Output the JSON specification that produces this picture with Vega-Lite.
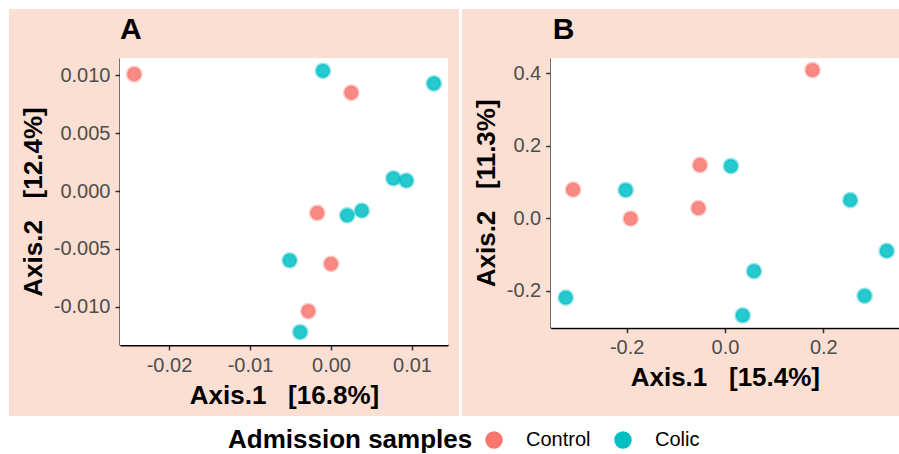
{
  "$schema": "https://vega.github.io/schema/vega-lite/v6.json",
  "background": "white",
  "padding": {"left": 9, "top": 9, "right": 0, "bottom": 0},
  "config": {
    "font": "Liberation Sans",
    "locale": {"number": {"decimal": ".", "thousands": ",", "grouping": [3], "currency": ["$", ""], "minus": "-"}},
    "view": {"stroke": null, "fill": "#FCDFD3"},
    "axis": {
      "domainColor": "black", "domainWidth": 2, "tickColor": "#333333", "tickWidth": 1.5, "tickSize": 5,
      "labelColor": "#4D4D4D", "labelFontSize": 20, "labelPadding": 5,
      "titleFontSize": 26, "titleFontWeight": "bold", "titleColor": "black", "titlePadding": 7,
      "grid": false, "zindex": 1
    },
    "title": {"fontSize": 30, "fontWeight": "bold", "anchor": "start", "frame": "group", "color": "black"},
    "legend": {
      "orient": "none", "legendX": 219, "legendY": 421, "direction": "horizontal",
      "titleOrient": "left", "titleFontSize": 26, "titleFontWeight": "bold", "titleColor": "black", "titleLimit": 600,
      "labelFontSize": 20, "labelColor": "black", "symbolSize": 254, "symbolType": "circle",
      "labelOffset": 22, "columnPadding": 21, "titlePadding": 11, "padding": 0
    }
  },
  "datasets": {
    "A": [
      {"Axis1": -0.0243, "Axis2": 0.0101, "Group": "Control"},
      {"Axis1": 0.0025, "Axis2": 0.0085, "Group": "Control"},
      {"Axis1": -0.0017, "Axis2": -0.0019, "Group": "Control"},
      {"Axis1": 0.0000, "Axis2": -0.0063, "Group": "Control"},
      {"Axis1": -0.0028, "Axis2": -0.0104, "Group": "Control"},
      {"Axis1": -0.0010, "Axis2": 0.0104, "Group": "Colic"},
      {"Axis1": 0.0127, "Axis2": 0.0093, "Group": "Colic"},
      {"Axis1": 0.0077, "Axis2": 0.0011, "Group": "Colic"},
      {"Axis1": 0.0093, "Axis2": 0.0009, "Group": "Colic"},
      {"Axis1": 0.0020, "Axis2": -0.0021, "Group": "Colic"},
      {"Axis1": 0.0038, "Axis2": -0.0017, "Group": "Colic"},
      {"Axis1": -0.0051, "Axis2": -0.0060, "Group": "Colic"},
      {"Axis1": -0.0038, "Axis2": -0.0122, "Group": "Colic"}
    ],
    "B": [
      {"Axis1": -0.309, "Axis2": 0.079, "Group": "Control"},
      {"Axis1": -0.192, "Axis2": -0.001, "Group": "Control"},
      {"Axis1": -0.051, "Axis2": 0.147, "Group": "Control"},
      {"Axis1": -0.054, "Axis2": 0.028, "Group": "Control"},
      {"Axis1": 0.178, "Axis2": 0.409, "Group": "Control"},
      {"Axis1": -0.324, "Axis2": -0.219, "Group": "Colic"},
      {"Axis1": -0.202, "Axis2": 0.078, "Group": "Colic"},
      {"Axis1": 0.012, "Axis2": 0.144, "Group": "Colic"},
      {"Axis1": 0.255, "Axis2": 0.050, "Group": "Colic"},
      {"Axis1": 0.329, "Axis2": -0.090, "Group": "Colic"},
      {"Axis1": 0.284, "Axis2": -0.214, "Group": "Colic"},
      {"Axis1": 0.059, "Axis2": -0.146, "Group": "Colic"},
      {"Axis1": 0.036, "Axis2": -0.268, "Group": "Colic"}
    ]
  },
  "spacing": 3,
  "resolve": {"scale": {"color": "shared", "stroke": "shared"}, "legend": {"color": "shared", "stroke": "shared"}},
  "hconcat": [
    {
      "width": 450, "height": 407,
      "title": {"text": "A", "dx": 111, "offset": -36},
      "layer": [
        {
          "data": {"values": [{}]},
          "mark": {"type": "rect", "fill": "white", "stroke": null},
          "encoding": {
            "x": {"datum": -0.02605, "type": "quantitative"},
            "x2": {"datum": 0.014444},
            "y": {"datum": -0.01332, "type": "quantitative"},
            "y2": {"datum": 0.011505}
          }
        },
        {
          "data": {"name": "A"},
          "mark": {"type": "point", "filled": true, "size": 190, "fillOpacity": 0.85, "strokeOpacity": 0.4, "strokeWidth": 3},
          "encoding": {
            "x": {"field": "Axis1", "type": "quantitative",
                  "scale": {"domain": [-0.02605, 0.014444], "range": [111, 439], "nice": false, "zero": false},
                  "axis": {"title": "Axis.1\u00a0\u00a0\u00a0[16.8%]", "values": [-0.02, -0.01, 0, 0.01], "format": ".2f", "offset": -71}},
            "y": {"field": "Axis2", "type": "quantitative",
                  "scale": {"domain": [-0.01332, 0.011505], "range": [336, 49], "nice": false, "zero": false},
                  "axis": {"title": "Axis.2\u00a0\u00a0\u00a0[12.4%]", "values": [-0.01, -0.005, 0, 0.005, 0.01], "format": ".3f", "offset": -111}},
            "color": {"field": "Group", "type": "nominal", "sort": ["Control", "Colic"],
                      "scale": {"domain": ["Control", "Colic"], "range": ["#F8766D", "#00BFC4"]},
                      "legend": {"title": "Admission samples"}},
            "stroke": {"field": "Group", "type": "nominal", "sort": ["Control", "Colic"],
                      "scale": {"domain": ["Control", "Colic"], "range": ["#F8766D", "#00BFC4"]},
                      "legend": {"title": "Admission samples"}}
          }
        }
      ]
    },
    {
      "width": 437, "height": 407,
      "title": {"text": "B", "dx": 90.7, "offset": -36},
      "layer": [
        {
          "data": {"values": [{}]},
          "mark": {"type": "rect", "fill": "white", "stroke": null},
          "encoding": {
            "x": {"datum": -0.3546, "type": "quantitative"},
            "x2": {"datum": 0.354},
            "y": {"datum": -0.3018, "type": "quantitative"},
            "y2": {"datum": 0.4422}
          }
        },
        {
          "data": {"name": "B"},
          "mark": {"type": "point", "filled": true, "size": 190, "fillOpacity": 0.85, "strokeOpacity": 0.4, "strokeWidth": 3},
          "encoding": {
            "x": {"field": "Axis1", "type": "quantitative",
                  "scale": {"domain": [-0.3546, 0.354], "range": [88.7, 437], "nice": false, "zero": false},
                  "axis": {"title": "Axis.1\u00a0\u00a0\u00a0[15.4%]", "values": [-0.2, 0, 0.2], "format": ".1f", "offset": -88.3}},
            "y": {"field": "Axis2", "type": "quantitative",
                  "scale": {"domain": [-0.3018, 0.4422], "range": [318.7, 49], "nice": false, "zero": false},
                  "axis": {"title": "Axis.2\u00a0\u00a0\u00a0[11.3%]", "values": [-0.2, 0, 0.2, 0.4], "format": ".1f", "offset": -88.7}},
            "color": {"field": "Group", "type": "nominal", "sort": ["Control", "Colic"],
                      "scale": {"domain": ["Control", "Colic"], "range": ["#F8766D", "#00BFC4"]},
                      "legend": {"title": "Admission samples"}},
            "stroke": {"field": "Group", "type": "nominal", "sort": ["Control", "Colic"],
                      "scale": {"domain": ["Control", "Colic"], "range": ["#F8766D", "#00BFC4"]},
                      "legend": {"title": "Admission samples"}}
          }
        }
      ]
    }
  ]
}
